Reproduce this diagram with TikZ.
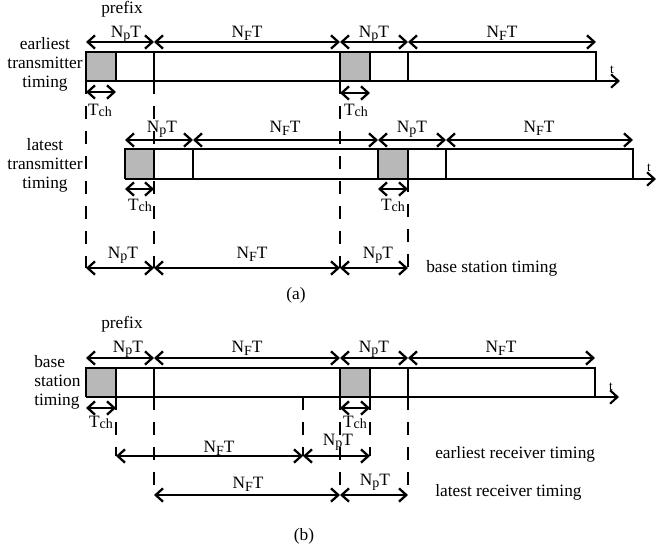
\documentclass[tikz,border=0pt]{standalone}
\usepackage{fontspec}
\setmainfont{Liberation Serif}
\usetikzlibrary{arrows.meta}
\newcommand{\lsub}[2][0.3ex]{\raisebox{-#1}{\fontsize{10.5}{11}\selectfont #2}}
\newcommand{\NpT}{N\lsub{p}T}
\newcommand{\NFT}{N\lsub[0.4ex]{F}T}
\newcommand{\Tch}{T\lsub[0.2ex]{ch}}
% x1, x2, y, label x, label baseline y, text, name
\newcommand{\dimarrow}[7]{\draw[dimline] (#1,#3) -- (#2,#3); \node[lab] (#7) at (#4,#5) {#6};}
\begin{document}
\begin{tikzpicture}[x=0.75pt,y=-0.75pt,
  frame/.style={line width=1.6pt},
  chan/.style={fill=black!28},
  dimline/.style={line width=1.7pt,{Straight Barb[length=5.5pt,width=10pt]}-{Straight Barb[length=5.5pt,width=10pt]}},
  axisline/.style={line width=1.6pt,-{Straight Barb[length=5.5pt,width=10pt]}},
  guide/.style={line width=1.6pt,dash pattern=on 9.75pt off 9pt},
  lab/.style={anchor=base,inner sep=0pt,font=\fontsize{13}{15}\selectfont},
  txt/.style={inner sep=0pt,font=\fontsize{13}{14.25}\selectfont},
  tlab/.style={inner sep=0pt,font=\fontsize{10}{11}\selectfont}]
\useasboundingbox (0,0) rectangle (657,553);

% ================= (a) =================
% earliest transmitter
\fill[chan] (86,52) rectangle (116,81);
\fill[chan] (340,52) rectangle (370,81);
\draw[frame] (86,81) -- (86,52) -- (596,52) -- (596,81);
\draw[frame] (116,52)--(116,81) (154,52)--(154,81) (340,52)--(340,81) (370,52)--(370,81) (408,52)--(408,81);
\draw[axisline] (86,81) -- (620,81);
\node[tlab] (t1) at (612,70) {t};
\node[lab] (pre1) at (122,13) {prefix};
\dimarrow{86}{154}{42}{126}{37}{\NpT}{e1}
\dimarrow{154}{340}{42}{247}{37}{\NFT}{e2}
\dimarrow{340}{408}{42}{374}{37}{\NpT}{e3}
\dimarrow{408}{596}{42}{502}{37}{\NFT}{e4}
\dimarrow{86}{116}{92}{100}{115}{\Tch}{e5}
\dimarrow{340}{370}{93}{356}{115}{\Tch}{e6}
\node[txt,align=center] (etx) at (45,64) {earliest\\transmitter\\timing};

% latest transmitter
\fill[chan] (125,149) rectangle (154,179);
\fill[chan] (378,149) rectangle (408,179);
\draw[frame] (125,179) -- (125,149) -- (633,149) -- (633,179);
\draw[frame] (154,149)--(154,179) (193,149)--(193,179) (378,149)--(378,179) (408,149)--(408,179) (446,149)--(446,179);
\draw[axisline] (125,179) -- (656,179);
\node[tlab] (t2) at (649,168) {t};
\dimarrow{125}{193}{140}{162}{132}{\NpT}{l1}
\dimarrow{193}{378}{140}{285}{132}{\NFT}{l2}
\dimarrow{378}{446}{140}{412}{132}{\NpT}{l3}
\dimarrow{446}{633}{140}{539}{132}{\NFT}{l4}
\dimarrow{125}{154}{189}{140}{210}{\Tch}{l5}
\dimarrow{378}{408}{189}{393}{210}{\Tch}{l6}
\node[txt,align=center] (ltx) at (45,165) {latest\\transmitter\\timing};

% guides (a)
\draw[guide] (86,81) -- (86,268);
\draw[guide] (154,81) -- (154,268);
\draw[guide] (340,81) -- (340,268);
\draw[guide] (408,179) -- (408,268);

% base station timing (a)
\dimarrow{86}{154}{268}{123}{258}{\NpT}{b1}
\dimarrow{154}{340}{268}{252}{258}{\NFT}{b2}
\dimarrow{340}{408}{268}{378}{258}{\NpT}{b3}
\node[txt,anchor=base west] (bst) at (426,272) {base station timing};
\node[txt] (capa) at (296,295) {(a)};

% ================= (b) =================
\fill[chan] (86,368) rectangle (116,397);
\fill[chan] (340,368) rectangle (370,397);
\draw[frame] (86,397) -- (86,368) -- (595,368) -- (595,397);
\draw[frame] (116,368)--(116,397) (154,368)--(154,397) (340,368)--(340,397) (370,368)--(370,397) (408,368)--(408,397);
\draw[axisline] (86,397) -- (619,397);
\node[tlab] (t3) at (611,387) {t};
\node[lab] (pre2) at (122,328) {prefix};
\dimarrow{86}{154}{358}{128}{352}{\NpT}{s1}
\dimarrow{154}{340}{358}{247}{352}{\NFT}{s2}
\dimarrow{340}{408}{358}{374}{352}{\NpT}{s3}
\dimarrow{408}{595}{358}{501}{352}{\NFT}{s4}
\dimarrow{86}{116}{408}{101}{427}{\Tch}{s5}
\dimarrow{340}{370}{408}{355}{427}{\Tch}{s6}
\node[txt,align=left,anchor=west] (bsl) at (34,382) {base\\station\\timing};

% guides (b)
\draw[guide] (116,397) -- (116,456);
\draw[guide] (154,397) -- (154,495);
\draw[guide] (303,397) -- (303,456);
\draw[guide] (340,397) -- (340,495);
\draw[guide] (370,397) -- (370,456);
\draw[guide] (408,397) -- (408,495);

% earliest receiver timing
\dimarrow{116}{303}{456}{219}{452}{\NFT}{r1}
\dimarrow{303}{370}{456}{338}{445}{\NpT}{r2}
\node[txt,anchor=base west] (ert) at (435,458) {earliest receiver timing};
% latest receiver timing
\dimarrow{154}{340}{495}{248}{488}{\NFT}{r3}
\dimarrow{340}{408}{495}{375}{485}{\NpT}{r4}
\node[txt,anchor=base west] (lrt) at (435,496) {latest receiver timing};
\node[txt] (capb) at (304,536) {(b)};
\end{tikzpicture}
\end{document}
